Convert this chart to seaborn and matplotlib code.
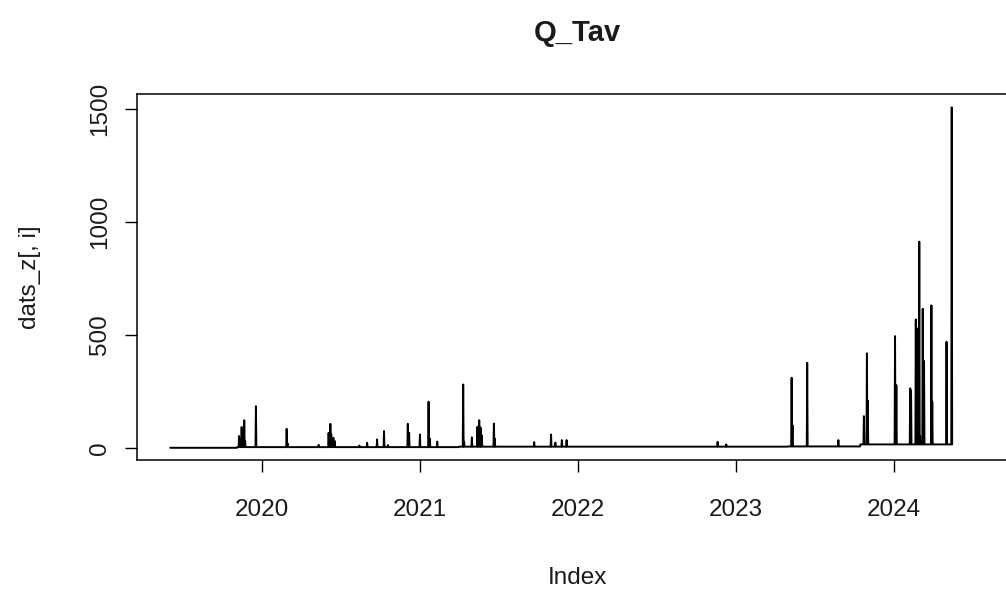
import pandas as pd
import matplotlib
matplotlib.use("Agg")
import matplotlib.pyplot as plt
import matplotlib.dates as mdates
import seaborn as sns

# daily record span
series_start = "2019-06-04"
series_end = "2024-05-15"

# background level between events
base_start = ["2019-06-04", "2019-11-06", "2021-04-01", "2023-05-01", "2023-10-16"]
base_end = ["2019-11-05", "2021-03-31", "2023-04-30", "2023-10-15", "2024-05-15"]
base_level = [0, 3, 5, 6, 15]

# event peaks
peak_dates = [
    "2019-11-10", "2019-11-14", "2019-11-16", "2019-11-19", "2019-11-22", "2019-11-24",
    "2019-12-19", "2020-02-28", "2020-03-01", "2020-05-12", "2020-06-04", "2020-06-08",
    "2020-06-10", "2020-06-15", "2020-06-18", "2020-08-14", "2020-09-01", "2020-09-24",
    "2020-10-10", "2020-10-19", "2020-12-04", "2020-12-07", "2021-01-01", "2021-01-21",
    "2021-01-24", "2021-02-10", "2021-04-11", "2021-04-13", "2021-05-01", "2021-05-14",
    "2021-05-18", "2021-05-21", "2021-05-24", "2021-06-21", "2021-06-23", "2021-09-22",
    "2021-10-31", "2021-11-10", "2021-11-25", "2021-12-06", "2022-11-20", "2022-12-10",
    "2023-05-10", "2023-05-12", "2023-06-15", "2023-08-26", "2023-10-24", "2023-10-31",
    "2023-11-02", "2024-01-04", "2024-01-07", "2024-02-08", "2024-02-10", "2024-02-21",
    "2024-02-24", "2024-02-29", "2024-03-02", "2024-03-08", "2024-03-11", "2024-03-28",
    "2024-03-30", "2024-05-02", "2024-05-14",
]
peak_values = [
    52, 40, 92, 25, 122, 30,
    184, 84, 20, 13, 66, 106,
    60, 44, 30, 10, 22, 37,
    74, 12, 106, 66, 59, 204,
    40, 27, 280, 27, 46, 93,
    122, 90, 55, 107, 40, 25,
    59, 23, 34, 34, 26, 15,
    310, 100, 376, 34, 140, 418,
    208, 494, 277, 263, 253, 568,
    528, 912, 50, 615, 384, 630,
    204, 469, 1506,
]

year_ticks = [2020, 2021, 2022, 2023, 2024]
value_ticks = [0, 500, 1000, 1500]

# assemble the daily series
days = pd.date_range(series_start, series_end, freq="D")
flow = pd.Series(0.0, index=days)
for s, e, lvl in zip(base_start, base_end, base_level):
    flow.loc[s:e] = lvl
for d, v in zip(peak_dates, peak_values):
    flow.loc[pd.Timestamp(d)] = v
df = pd.DataFrame({"date": flow.index, "value": flow.values})

sns.set_theme(style="ticks")
plt.rcParams["font.family"] = ["Liberation Sans", "DejaVu Sans"]

W, H = 1006, 592
fig = plt.figure(figsize=(W / 100, H / 100), dpi=100)
fig.patch.set_facecolor("white")
left, right, top, bottom = 136.5, 1017.5, 94, 460
ax = fig.add_axes([left / W, (H - bottom) / H, (right - left) / W, (bottom - top) / H])
ax.set_facecolor("white")

sns.lineplot(data=df, x="date", y="value", ax=ax, color="black", linewidth=1.4,
             estimator=None, legend=False)

ax.set_xlim(pd.Timestamp("2019-03-18"), pd.Timestamp("2024-10-13"))
ax.set_ylim(-54, 1565)

ax.set_xticks([pd.Timestamp(f"{y}-01-01") for y in year_ticks])
ax.set_xticklabels([str(y) for y in year_ticks])
ax.set_yticks(value_ticks)
ax.set_yticklabels([str(v) for v in value_ticks])

txt = "#1a1a1a"
ax.tick_params(axis="both", direction="out", length=8.6, width=1.0, color="black",
               labelsize=17.5, labelcolor=txt)
ax.tick_params(axis="x", pad=19.5)
ax.tick_params(axis="y", pad=9.5, labelrotation=90)
for lab in ax.get_yticklabels():
    lab.set_verticalalignment("center")
    lab.set_horizontalalignment("right")

for sp in ax.spines.values():
    sp.set_visible(True)
    sp.set_color("black")
    sp.set_linewidth(1.1)

ax.set_xlabel("Index", fontsize=17.5, color=txt)
ax.xaxis.set_label_coords(0.5, -(578 - bottom) / (bottom - top))
ax.xaxis.label.set_verticalalignment("center")
ax.set_ylabel("dats_z[, i]", fontsize=17.5, color=txt)
ax.yaxis.set_label_coords(-(left - 30) / (right - left), 0.5)
ax.yaxis.label.set_verticalalignment("center")
ax.yaxis.label.set_horizontalalignment("center")

ax.set_title("Q_Tav", fontsize=21, fontweight="bold", color=txt,
             y=1 + (top - 33) / (bottom - top), pad=0, va="center")

fig.savefig("out.png", dpi=100, facecolor="white")
